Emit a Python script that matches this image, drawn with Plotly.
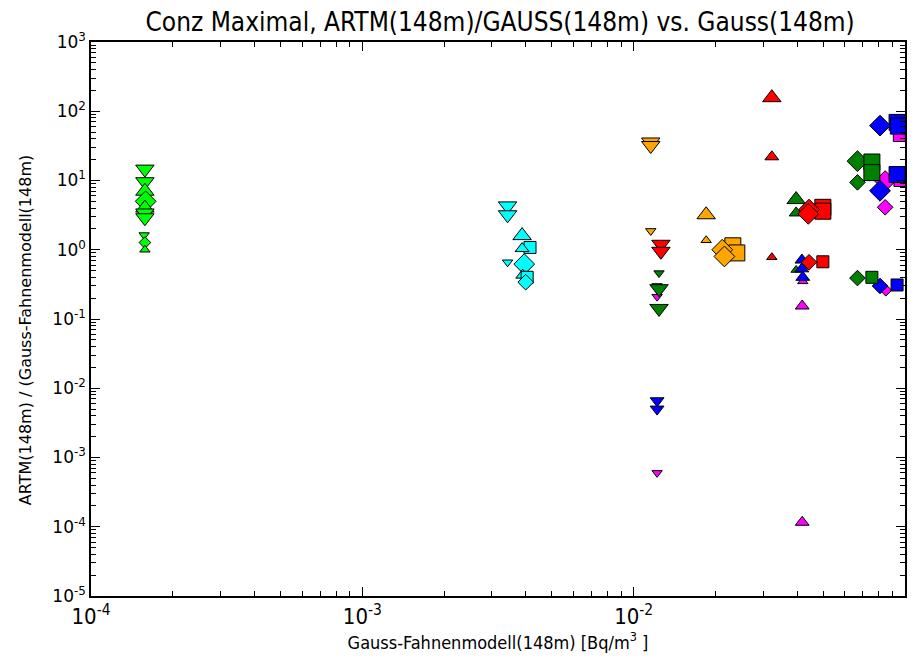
import plotly.graph_objects as go

# Gauss-Fahnenmodell (148 m) concentration [Bq/m3] and ratio ARTM/Gauss per source group.
# form: "ab" = triangle down, "auf" = triangle up, "raute" = diamond, "quadrat" = square
# klasse: "g" = large, "m" = medium, "k" = small marker

hellgruen_x = [1.58e-4, 1.58e-4, 1.58e-4, 1.59e-4, 1.58e-4, 1.58e-4, 1.58e-4, 1.57e-4, 1.58e-4, 1.58e-4]
hellgruen_y = [14.6, 9.6, 7.0, 5.0, 4.0, 3.4, 2.9, 1.63, 1.27, 1.0]
hellgruen_form = ["ab", "ab", "auf", "raute", "auf", "ab", "ab", "ab", "raute", "auf"]
hellgruen_klasse = ["g", "g", "g", "g", "g", "g", "g", "k", "k", "k"]

cyan_x = [3.43e-3, 3.43e-3, 3.43e-3, 3.88e-3, 4.15e-3, 3.88e-3, 3.95e-3, 3.90e-3, 4.05e-3, 4.0e-3]
cyan_y = [4.3, 3.2, 0.66, 1.6, 1.08, 1.04, 0.62, 0.43, 0.40, 0.34]
cyan_form = ["ab", "ab", "ab", "auf", "quadrat", "auf", "raute", "auf", "quadrat", "raute"]
cyan_klasse = ["g", "g", "k", "g", "m", "m", "g", "m", "m", "m"]

orange_x = [0.01156, 0.01156, 0.01156, 0.0185, 0.0185, 0.0232, 0.0240, 0.0212, 0.0216]
orange_y = [36.0, 32.0, 1.87, 3.2, 1.37, 1.14, 0.9, 1.0, 0.8]
orange_form = ["ab", "ab", "ab", "auf", "auf", "quadrat", "quadrat", "raute", "raute"]
orange_klasse = ["g", "g", "k", "g", "k", "g", "g", "g", "g"]

rot_x = [0.0126, 0.0126, 0.0323, 0.0323, 0.0323, 0.0498, 0.0498, 0.0498, 0.0443, 0.0440, 0.0443]
rot_y = [1.2, 0.95, 157.0, 22.0, 0.78, 4.1, 3.6, 0.67, 3.8, 3.3, 0.66]
rot_form = ["ab", "ab", "auf", "auf", "auf", "quadrat", "quadrat", "quadrat", "raute", "raute", "raute"]
rot_klasse = ["g", "g", "g", "m", "k", "g", "g", "m", "g", "g", "m"]

gruen_x = [0.0124, 0.0124, 0.0124, 0.0397, 0.0397, 0.0397, 0.0668, 0.0668, 0.0668, 0.0755, 0.0755, 0.0755]
gruen_y = [0.46, 0.274, 0.142, 5.3, 3.4, 0.51, 19.0, 9.4, 0.39, 18.5, 13.0, 0.40]
gruen_form = ["ab", "ab", "ab", "auf", "auf", "auf", "raute", "raute", "raute", "quadrat", "quadrat", "quadrat"]
gruen_klasse = ["k", "g", "g", "g", "m", "k", "g", "m", "m", "g", "g", "m"]

blau_x = [0.0122, 0.0122, 0.0122, 0.0417, 0.0417, 0.0420, 0.0809, 0.0809, 0.0809, 0.0935, 0.0945, 0.0935, 0.0935]
blau_y = [0.0066, 0.0050, 0.30, 0.71, 0.53, 0.40, 62.0, 7.1, 0.30, 69.0, 61.0, 12.2, 0.31]
blau_form = ["ab", "ab", "ab", "auf", "auf", "auf", "raute", "raute", "raute", "quadrat", "quadrat", "quadrat", "quadrat"]
blau_klasse = ["m", "m", "k", "m", "m", "m", "g", "g", "m", "g", "g", "g", "m"]

magenta_x = [0.0122, 0.0122, 0.0418, 0.0418, 0.0420, 0.0845, 0.0845, 0.0850, 0.0953, 0.0958]
magenta_y = [6.0e-4, 0.21, 1.16e-4, 0.154, 0.35, 9.8, 4.1, 0.26, 44.6, 10.0]
magenta_form = ["ab", "ab", "auf", "auf", "auf", "raute", "raute", "raute", "quadrat", "quadrat"]
magenta_klasse = ["k", "k", "m", "m", "k", "g", "m", "k", "m", "m"]

x_exponents = [-4, -3, -2, -1]
y_exponents = [3, 2, 1, 0, -1, -2, -3, -4, -5]

SYMBOL = {"ab": "triangle-down", "auf": "triangle-up", "raute": "diamond", "quadrat": "square"}
SIZE = {"g": 16, "m": 12, "k": 9}

groups = {
    "hellgruen": (hellgruen_x, hellgruen_y, hellgruen_form, hellgruen_klasse, "#00ff00"),
    "cyan": (cyan_x, cyan_y, cyan_form, cyan_klasse, "#00ffff"),
    "orange": (orange_x, orange_y, orange_form, orange_klasse, "#ffa500"),
    "rot": (rot_x, rot_y, rot_form, rot_klasse, "#ff0000"),
    "gruen": (gruen_x, gruen_y, gruen_form, gruen_klasse, "#008000"),
    "blau": (blau_x, blau_y, blau_form, blau_klasse, "#0000ff"),
    "magenta": (magenta_x, magenta_y, magenta_form, magenta_klasse, "#ff00ff"),
}

# drawing order (later traces lie on top)
order = [
    ("magenta", None),
    ("blau", "ab"),
    ("gruen", "ab"), ("gruen", "auf"),
    ("blau", "auf"), ("blau", "quadrat"), ("blau", "raute"),
    ("gruen", "raute"), ("gruen", "quadrat"),
    ("rot", "ab"), ("rot", "auf"), ("rot", "quadrat"), ("rot", "raute"),
    ("orange", None), ("cyan", None), ("hellgruen", None),
]

fig = go.Figure()
for name, form in order:
    xs, ys, forms, klassen, color = groups[name]
    idx = [i for i in range(len(xs)) if form is None or forms[i] == form]
    fig.add_trace(go.Scatter(
        x=[xs[i] for i in idx],
        y=[ys[i] for i in idx],
        mode="markers",
        showlegend=False,
        marker=dict(
            symbol=[SYMBOL[forms[i]] for i in idx],
            size=[SIZE[klassen[i]] for i in idx],
            color=color,
            opacity=1,
            line=dict(color="black", width=1),
        ),
    ))


def minor_vals(lo, hi):
    return [k * 10.0 ** e for e in range(lo, hi) for k in range(2, 10)]


narrow = "Liberation Sans Narrow, DejaVu Sans Condensed, Liberation Sans, sans-serif"

fig.update_layout(
    width=921, height=658,
    margin=dict(l=91, r=16, t=42, b=55),
    paper_bgcolor="white", plot_bgcolor="white",
    title=dict(text="Conz Maximal, ARTM(148m)/GAUSS(148m) vs. Gauss(148m)",
               x=0.543, xanchor="center", y=0.966, yanchor="middle",
               font=dict(family=narrow, size=26, color="black")),
    xaxis=dict(
        type="log", range=[-4, -1],
        tickmode="array",
        tickvals=[10.0 ** e for e in x_exponents],
        ticktext=[f"10<sup>{e}</sup>" for e in x_exponents],
        ticks="inside", ticklen=9, tickwidth=1, tickcolor="black",
        minor=dict(tickmode="array", tickvals=minor_vals(-4, -1), ticks="inside",
                   ticklen=5, tickcolor="black", showgrid=False),
        showline=True, linecolor="black", linewidth=1.5, mirror="allticks",
        showgrid=False, zeroline=False,
        tickfont=dict(family=narrow, size=22, color="black"),
        title=dict(text="Gauss-Fahnenmodell(148m) [Bq/m<sup>3</sup> ]",
                   font=dict(family=narrow, size=18, color="black"), standoff=4),
    ),
    yaxis=dict(
        type="log", range=[-5, 3],
        tickmode="array",
        tickvals=[10.0 ** e for e in y_exponents],
        ticktext=[f"10<sup>{e}</sup>" for e in y_exponents],
        ticks="inside", ticklen=9, tickwidth=1, tickcolor="black",
        minor=dict(tickmode="array", tickvals=minor_vals(-5, 3), ticks="inside",
                   ticklen=5, tickcolor="black", showgrid=False),
        showline=True, linecolor="black", linewidth=1.5, mirror="allticks",
        showgrid=False, zeroline=False,
        tickfont=dict(family="DejaVu Sans, sans-serif", size=17, color="black"),
    ),
    annotations=[dict(
        text="ARTM(148m) / (Gauss-Fahnenmodell(148m)",
        textangle=-90, xref="paper", yref="paper", x=-0.081, y=0.48,
        xanchor="center", yanchor="middle", showarrow=False,
        font=dict(family="DejaVu Sans, sans-serif", size=16, color="black"),
    )],
)

fig.write_html("out.html")
